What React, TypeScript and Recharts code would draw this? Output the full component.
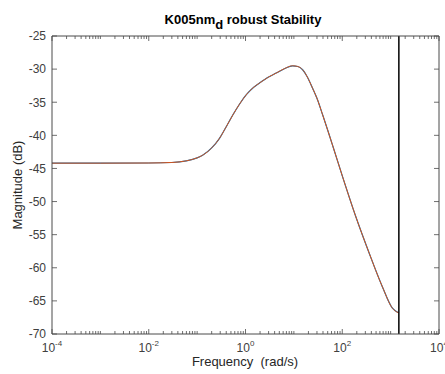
import React from "react";
import { LineChart, Line, XAxis, YAxis, ReferenceLine } from "recharts";

// frequency (rad/s) and magnitude (dB)
const freqs = [
  1e-4, 1e-3, 1e-2, 0.03, 0.06, 0.1, 0.13, 0.2, 0.29, 0.4, 0.55, 0.75, 1.03, 1.5,
  1.95, 3, 4.3, 6.5, 9.4, 12, 15.2, 19, 24.4, 30, 39.3, 65, 101, 191, 361, 678, 1089, 1449,
];
const magnitudes = [
  -44.2, -44.2, -44.18, -44.1, -43.85, -43.4, -43.0, -41.9, -40.45, -38.7, -36.9,
  -35.3, -33.9, -32.7, -32.1, -31.2, -30.6, -29.9, -29.5, -29.6, -30.1, -31.2, -32.9,
  -34.4, -36.9, -41.8, -46.2, -52.3, -57.8, -62.9, -66.1, -66.8,
];
const stabilityLimit = 1480;

const yTicks = [-70, -65, -60, -55, -50, -45, -40, -35, -30, -25];
const decades = [-4, -3, -2, -1, 0, 1, 2, 3];
const xTicks: number[] = [];
decades.forEach((d) => {
  for (let k = 1; k <= 9; k++) xTicks.push(k * Math.pow(10, d));
});
xTicks.push(1e4);

const data = freqs.map((f, i) => ({ f, mag: magnitudes[i] }));

const FONT = "'Liberation Sans', Arial, Helvetica, sans-serif";
const AXIS = "#4a4a4a";

const decadeOf = (v: number) => {
  const l = Math.log10(v);
  const r = Math.round(l);
  return Math.abs(l - r) < 1e-6 ? r : null;
};

const BottomTick = (props: any) => {
  const { x, y, payload } = props;
  const e = decadeOf(payload.value);
  const major = e !== null && e % 2 === 0;
  return (
    <g>
      <line x1={x} x2={x} y1={y} y2={y - (major ? 5 : 3)} stroke={AXIS} strokeWidth={0.8} />
      {major && (
        <text x={x} y={y + 18} textAnchor="middle" fontSize={12} fill="#404040" fontFamily={FONT}>
          <tspan>10</tspan>
          <tspan dy={-6} fontSize={8}>{e}</tspan>
        </text>
      )}
    </g>
  );
};

const TopTick = (props: any) => {
  const { x, y, payload } = props;
  const e = decadeOf(payload.value);
  const major = e !== null && e % 2 === 0;
  return <line x1={x} x2={x} y1={y} y2={y + (major ? 5 : 3)} stroke={AXIS} strokeWidth={0.8} />;
};

const LeftTick = (props: any) => {
  const { x, y, payload } = props;
  return (
    <g>
      <line x1={x} x2={x + 5} y1={y} y2={y} stroke={AXIS} strokeWidth={0.8} />
      <text x={x - 6} y={y} dy="0.36em" textAnchor="end" fontSize={12} fill="#404040" fontFamily={FONT}>
        {payload.value}
      </text>
    </g>
  );
};

const RightTick = (props: any) => {
  const { x, y } = props;
  return <line x1={x} x2={x - 5} y1={y} y2={y} stroke={AXIS} strokeWidth={0.8} />;
};

export default function App() {
  return (
    <div style={{ position: "absolute", left: 0, top: 0, width: 445, height: 374, background: "#fff" }}>
      <LineChart width={445} height={374} data={data} margin={{ top: 35, right: 5, bottom: 0, left: 0 }}>
        <XAxis
          xAxisId="bottom"
          dataKey="f"
          type="number"
          scale="log"
          domain={[1e-4, 1e4]}
          allowDataOverflow
          ticks={xTicks}
          interval={0}
          height={40}
          tickSize={0}
          tickMargin={0}
          tickLine={false}
          tick={<BottomTick />}
          axisLine={{ stroke: AXIS }}
        />
        <XAxis
          xAxisId="top"
          orientation="top"
          dataKey="f"
          type="number"
          scale="log"
          domain={[1e-4, 1e4]}
          allowDataOverflow
          ticks={xTicks}
          interval={0}
          height={1}
          tickSize={0}
          tickMargin={0}
          tickLine={false}
          tick={<TopTick />}
          axisLine={{ stroke: AXIS }}
        />
        <YAxis
          yAxisId="left"
          type="number"
          domain={[-70, -25]}
          ticks={yTicks}
          interval={0}
          width={52}
          tickSize={0}
          tickMargin={0}
          tickLine={false}
          tick={<LeftTick />}
          axisLine={{ stroke: AXIS }}
        />
        <YAxis
          yAxisId="right"
          orientation="right"
          type="number"
          domain={[-70, -25]}
          ticks={yTicks}
          interval={0}
          width={1}
          tickSize={0}
          tickMargin={0}
          tickLine={false}
          tick={<RightTick />}
          axisLine={{ stroke: AXIS }}
        />
        <Line
          xAxisId="bottom"
          yAxisId="left"
          dataKey="mag"
          type="monotone"
          stroke="#0072BD"
          strokeWidth={1.2}
          dot={false}
          isAnimationActive={false}
        />
        <Line
          xAxisId="top"
          yAxisId="right"
          dataKey="mag"
          type="monotone"
          stroke="#D95319"
          strokeWidth={1}
          dot={false}
          isAnimationActive={false}
        />
        <ReferenceLine xAxisId="bottom" yAxisId="left" x={stabilityLimit} stroke="#000" strokeWidth={1.5} />
      </LineChart>
      <svg width={445} height={374} style={{ position: "absolute", left: 0, top: 0, pointerEvents: "none" }}>
        <text x={243} y={24} textAnchor="middle" fontSize={13} fontWeight="bold" fill="#000" fontFamily={FONT}>
          <tspan>K005nm</tspan>
          <tspan dy={5} fontSize={13}>d</tspan>
          <tspan dy={-5}> robust Stability</tspan>
        </text>
        <text x={245} y={366} textAnchor="middle" fontSize={13} fill="#262626" fontFamily={FONT}>
          {"Frequency\u00A0 (rad/s)"}
        </text>
        <text
          x={22}
          y={185}
          textAnchor="middle"
          fontSize={13}
          fill="#262626"
          fontFamily={FONT}
          transform="rotate(-90 22 185)"
        >
          Magnitude (dB)
        </text>
      </svg>
    </div>
  );
}
